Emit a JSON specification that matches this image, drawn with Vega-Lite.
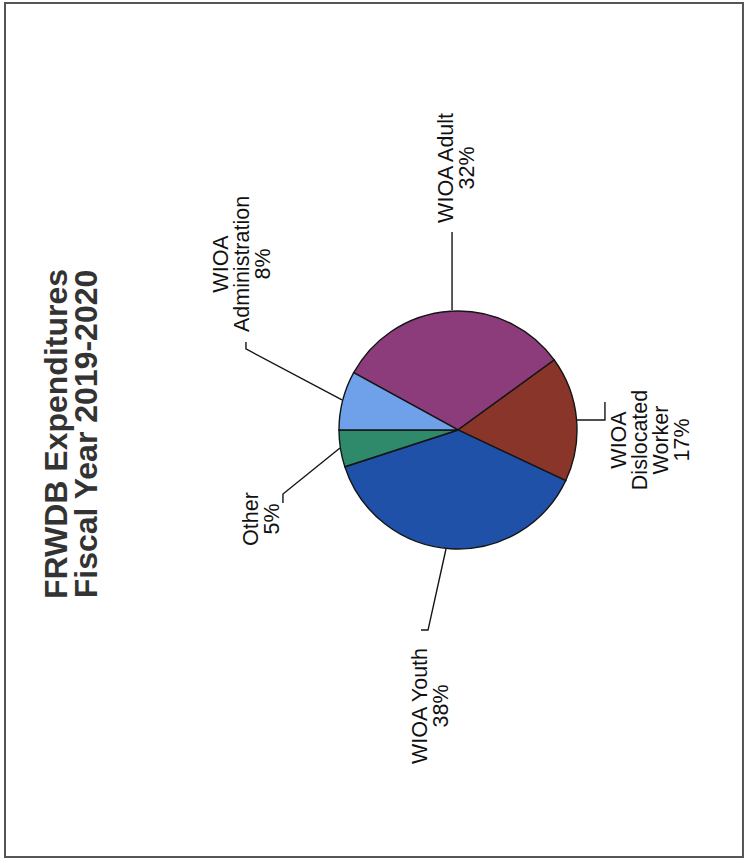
{
  "$schema": "https://vega.github.io/schema/vega-lite/v6.json",
  "width": 745,
  "height": 859,
  "padding": 0,
  "autosize": {"type": "none"},
  "background": "white",
  "config": {"view": {"stroke": null}},
  "datasets": {
    "pie": [
      {"category": "WIOA Adult", "share": 32},
      {"category": "WIOA Dislocated Worker", "share": 17},
      {"category": "WIOA Youth", "share": 38},
      {"category": "Other", "share": 5},
      {"category": "WIOA Administration", "share": 8}
    ],
    "labels": [
      {"label": "WIOA Adult\n32%", "X": -0.096, "Y": 2.202},
      {"label": "WIOA\nAdministration\n8%", "X": -1.983, "Y": 1.395},
      {"label": "Other\n5%", "X": -1.727, "Y": -0.748},
      {"label": "WIOA\nDislocated\nWorker\n17%", "X": 1.361, "Y": -0.084},
      {"label": "WIOA Youth\n38%", "X": -0.315, "Y": -2.319}
    ],
    "title": [
      {"label": "FRWDB Expenditures\nFiscal Year 2019-2020", "X": -3.366, "Y": -0.034}
    ],
    "leaders": [
      {"slice": "WIOA Adult", "seq": 1, "X": -0.05, "Y": 1.008},
      {"slice": "WIOA Adult", "seq": 2, "X": -0.05, "Y": 1.664},
      {"slice": "WIOA Administration", "seq": 1, "X": -0.975, "Y": 0.252},
      {"slice": "WIOA Administration", "seq": 2, "X": -1.782, "Y": 0.681},
      {"slice": "WIOA Administration", "seq": 3, "X": -1.782, "Y": 0.739},
      {"slice": "Other", "seq": 1, "X": -0.992, "Y": -0.151},
      {"slice": "Other", "seq": 2, "X": -1.471, "Y": -0.538},
      {"slice": "Other", "seq": 3, "X": -1.471, "Y": -0.613},
      {"slice": "WIOA Dislocated Worker", "seq": 1, "X": 1.0, "Y": 0.084},
      {"slice": "WIOA Dislocated Worker", "seq": 2, "X": 1.235, "Y": 0.084},
      {"slice": "WIOA Dislocated Worker", "seq": 3, "X": 1.235, "Y": 0.235},
      {"slice": "WIOA Youth", "seq": 1, "X": -0.101, "Y": -1.0},
      {"slice": "WIOA Youth", "seq": 2, "X": -0.252, "Y": -1.681},
      {"slice": "WIOA Youth", "seq": 3, "X": -0.311, "Y": -1.681}
    ]
  },
  "layer": [
    {
      "data": {"values": [{}]},
      "mark": {"type": "rect", "fillOpacity": 0, "stroke": "#555555", "strokeWidth": 2},
      "encoding": {
        "x": {"datum": -3.807, "type": "quantitative", "scale": {"domain": [-3.849, 2.412], "nice": false, "zero": false}, "axis": null},
        "x2": {"datum": 2.395},
        "y": {"datum": 3.588, "type": "quantitative", "scale": {"domain": [-3.605, 3.613], "nice": false, "zero": false}, "axis": null},
        "y2": {"datum": -3.588}
      }
    },
    {
      "data": {"name": "pie"},
      "mark": {"type": "arc", "outerRadius": 119, "stroke": "#151515", "strokeWidth": 1.4},
      "encoding": {
        "x": {"datum": 0, "type": "quantitative"},
        "y": {"datum": 0, "type": "quantitative"},
        "theta": {"field": "share", "type": "quantitative", "stack": true, "scale": {"range": [4.398, 10.681]}},
        "order": {"field": "category", "sort": "ascending"},
        "color": {
          "field": "category", "type": "nominal", "legend": null,
          "scale": {
            "domain": ["Other", "WIOA Administration", "WIOA Adult", "WIOA Dislocated Worker", "WIOA Youth"],
            "range": ["#2f8a6c", "#6fa0ea", "#8c3c7a", "#8a3529", "#2051a8"]
          }
        }
      }
    },
    {
      "data": {"name": "leaders"},
      "mark": {"type": "line", "color": "#151515", "strokeWidth": 1.4},
      "encoding": {
        "x": {"field": "X", "type": "quantitative"},
        "y": {"field": "Y", "type": "quantitative"},
        "detail": {"field": "slice"},
        "order": {"field": "seq"}
      }
    },
    {
      "data": {"name": "labels"},
      "mark": {"type": "text", "angle": 270, "lineBreak": "\n", "font": "Liberation Sans", "fontSize": 21.5, "lineHeight": 21, "align": "center", "baseline": "middle", "color": "#111111"},
      "encoding": {
        "x": {"field": "X", "type": "quantitative"},
        "y": {"field": "Y", "type": "quantitative"},
        "text": {"field": "label"}
      }
    },
    {
      "data": {"name": "title"},
      "mark": {"type": "text", "angle": 270, "lineBreak": "\n", "font": "Liberation Sans", "fontWeight": "bold", "fontSize": 32, "lineHeight": 30, "align": "center", "baseline": "middle", "color": "#333333"},
      "encoding": {
        "x": {"field": "X", "type": "quantitative"},
        "y": {"field": "Y", "type": "quantitative"},
        "text": {"field": "label"}
      }
    }
  ]
}
